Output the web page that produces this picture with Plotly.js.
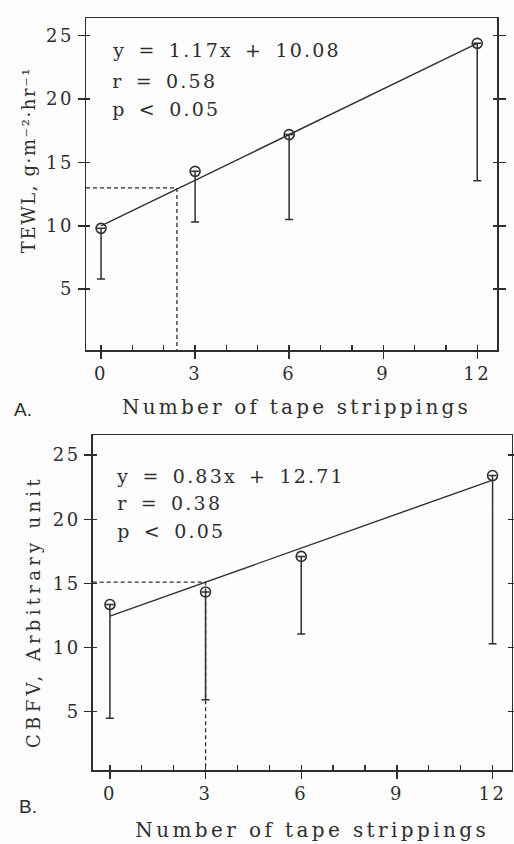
<!DOCTYPE html>
<html><head><meta charset="utf-8">
<script src="https://cdn.plot.ly/plotly-3.0.1.min.js"></script>
<style>
html,body{margin:0;padding:0;background:#fdfdfd;}
#chart{width:514px;height:844px;}
.xtick text,.ytick text,.x2tick text,.y2tick text{letter-spacing:2.5px;}
.xtitle{letter-spacing:3.2px;}
.x2title{letter-spacing:3.4px;}
.ytitle{letter-spacing:1.6px;}
.y2title{letter-spacing:4.3px;}
.annotation-text.stat{letter-spacing:2.2px;word-spacing:4px;}
</style></head><body><div id="chart"></div>
<script>
// ---- data ----
const strippings = [0, 3, 6, 12];
const tewlMean = [9.8, 14.3, 17.2, 24.4];
const tewlErrDown = [4.0, 4.0, 6.7, 10.85];
const tewlFitX = [0, 12];
const tewlFitY = [10.0, 24.4];
const tewlRefX = 2.42, tewlRefY = 13.0;
const tewlStats = ['y = 1.17x + 10.08', 'r = 0.58', 'p &lt; 0.05'];

const cbfvMean = [13.35, 14.33, 17.1, 23.4];
const cbfvErrDown = [8.85, 8.4, 6.05, 13.1];
const cbfvFitX = [0, 12];
const cbfvFitY = [12.45, 23.05];
const cbfvRefX = 3.0, cbfvRefY = 15.1;
const cbfvStats = ['y = 0.83x + 12.71', 'r = 0.38', 'p &lt; 0.05'];

const xTickVals = [0, 3, 6, 9, 12];
const xTickText = ['0', '3', '6', '9', '12'];
const xMinorVals = [0, 1, 2, 3, 4, 5, 6, 7, 8, 9, 10, 11, 12];
const yTickVals = [5, 10, 15, 20, 25];
const yTickText = ['5', '10', '15', '20', '25'];
const xTitle = 'Number of tape strippings';
const yTitleA = 'TEWL, g·m⁻²·hr⁻¹';
const yTitleB = 'CBFV, Arbitrary unit';
const panelLabels = ['A.', 'B.'];

// ---- style / layout ----
const C = '#2e2e2e';
const F = 'DejaVu Serif, serif';
const W = 514, H = 844;
const px = v => v / W, py = v => 1 - v / H;
const STAT_LS = 2.2, STAT_WS = 4;

const xRangeA = [-0.48, 12.63], yRangeA = [0.2, 26.4];
const xRangeB = [-0.54, 12.6], yRangeB = [0.46, 26.56];
const domA = {x: [px(86), px(497)], y: [py(350), py(18)]};
const domB = {x: [px(92.7), px(511.7)], y: [py(770), py(435)]};
// offsets (px) of axis titles along their own direction
const titleShift = {xtitle: 5, x2title: 10, ytitle: 24, y2title: -9};

function pointsTrace(y, err, xa, ya) {
  return {x: strippings, y: y, xaxis: xa, yaxis: ya, type: 'scatter', mode: 'markers',
    marker: {symbol: 'circle-open', size: 10, color: C, line: {width: 1.6, color: C}},
    error_y: {type: 'data', symmetric: false, array: [0,0,0,0], arrayminus: err,
      color: C, thickness: 1.5, width: 4},
    showlegend: false, hoverinfo: 'x+y'};
}
function lineTrace(x, y, xa, ya, dash) {
  return {x: x, y: y, xaxis: xa, yaxis: ya, type: 'scatter', mode: 'lines',
    line: {color: C, width: dash ? 1.3 : 1.4, dash: dash ? '4px,3px' : 'solid'},
    showlegend: false, hoverinfo: 'skip'};
}
function refTrace(rx, ry, xr, yr, xa, ya) {
  return lineTrace([xr[0], rx, rx], [ry, ry, yr[0]], xa, ya, true);
}

const data = [
  refTrace(tewlRefX, tewlRefY, xRangeA, yRangeA, 'x', 'y'),
  lineTrace(tewlFitX, tewlFitY, 'x', 'y', false),
  pointsTrace(tewlMean, tewlErrDown, 'x', 'y'),
  refTrace(cbfvRefX, cbfvRefY, xRangeB, yRangeB, 'x2', 'y2'),
  lineTrace(cbfvFitX, cbfvFitY, 'x2', 'y2', false),
  pointsTrace(cbfvMean, cbfvErrDown, 'x2', 'y2')
];

function mainX(dom, range, anchor, standoff) {
  return {domain: dom, range: range, anchor: anchor, showline: true, linecolor: C, linewidth: 1.5,
    mirror: true, tickmode: 'array', tickvals: xTickVals, ticktext: xTickText,
    ticks: 'outside', ticklen: 7, tickwidth: 1.4, tickcolor: C,
    minor: {tickmode: 'array', tickvals: xMinorVals, ticks: 'inside', ticklen: 5, tickwidth: 1.3, tickcolor: C, showgrid: false},
    showgrid: false, zeroline: false, tickfont: {family: F, size: 18, color: C},
    title: {text: xTitle, font: {family: F, size: 20, color: C}, standoff: standoff},
    automargin: false, fixedrange: true};
}
function mainY(dom, range, anchor, title, standoff) {
  return {domain: dom, range: range, anchor: anchor, showline: true, linecolor: C, linewidth: 1.5,
    mirror: 'ticks', tickmode: 'array', tickvals: yTickVals, ticktext: yTickText,
    ticks: 'outside', ticklen: 7, tickwidth: 1.4, tickcolor: C,
    minor: {tickmode: 'array', tickvals: yTickVals, ticks: 'inside', ticklen: 4, tickwidth: 1.4, tickcolor: C, showgrid: false},
    showgrid: false, zeroline: false, tickfont: {family: F, size: 18, color: C},
    title: {text: title, font: {family: F, size: 18, color: C}, standoff: standoff},
    automargin: false, fixedrange: true};
}

function statAnn(texts, xref, yref, x, ys) {
  return texts.map((t, i) => {
    const plain = t.replace(/&lt;/g, '<');
    const n = plain.length, spaces = (plain.match(/ /g) || []).length;
    return {text: t, xref: xref, yref: yref, x: x, y: ys[i],
      xanchor: 'left', yanchor: 'middle', showarrow: false,
      xshift: (n * STAT_LS + spaces * STAT_WS) / 2,
      font: {family: F, size: 19, color: C}};
  });
}

const annotations = [
  ...statAnn(tewlStats, 'x', 'y', 0.3, [23.9, 21.45, 19.2]),
  ...statAnn(cbfvStats, 'x2', 'y2', 0.15, [23.4, 21.3, 19.1]),
  {text: panelLabels[0], xref: 'paper', yref: 'paper', x: px(23), y: py(410), xanchor: 'center', yanchor: 'middle',
    showarrow: false, font: {family: 'Liberation Sans, Arial, sans-serif', size: 19, color: C}},
  {text: panelLabels[1], xref: 'paper', yref: 'paper', x: px(28), y: py(806), xanchor: 'center', yanchor: 'middle',
    showarrow: false, font: {family: 'Liberation Sans, Arial, sans-serif', size: 19, color: C}}
];

const layout = {
  width: W, height: H, margin: {l: 0, r: 0, t: 0, b: 0},
  paper_bgcolor: '#fdfdfd', plot_bgcolor: '#fdfdfd', showlegend: false,
  xaxis: mainX(domA.x, xRangeA, 'y', 17),
  yaxis: mainY(domA.y, yRangeA, 'x', yTitleA, 5),
  xaxis2: mainX(domB.x, xRangeB, 'y2', 20),
  yaxis2: mainY(domB.y, yRangeB, 'x2', yTitleB, 7),
  annotations: annotations
};

Plotly.newPlot('chart', data, layout, {displayModeBar: false, staticPlot: true}).then(gd => {
  const anns = gd.querySelectorAll('.annotation-text');
  anns.forEach((el, i) => { if (i < 6) el.classList.add('stat'); });
  Object.keys(titleShift).forEach(cls => {
    const el = gd.querySelector('text.' + cls);
    if (el) el.setAttribute('dx', titleShift[cls]);
  });
});
</script></body></html>
